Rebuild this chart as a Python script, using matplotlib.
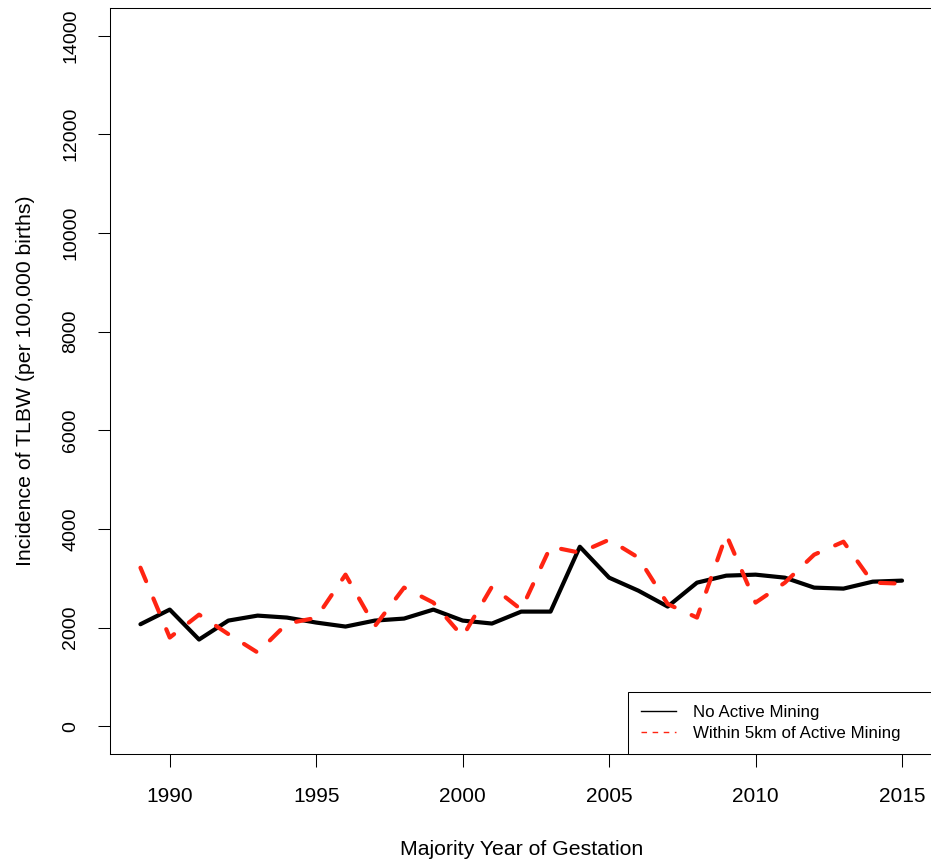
import matplotlib
matplotlib.use("Agg")
import matplotlib.pyplot as plt
from matplotlib.lines import Line2D

plt.rcParams['font.family'] = ['Liberation Sans', 'DejaVu Sans']

years = list(range(1989, 2016))
no_mining = [2070, 2367, 1760, 2144, 2245, 2205, 2104, 2023, 2144, 2185,
             2367, 2144, 2084, 2326, 2326, 3641, 3014, 2750, 2428, 2913,
             3055, 3075, 3014, 2812, 2792, 2933, 2954]
within_5km = [3216, 1800, 2265, 1870, 1497, 2084, 2200, 3075, 2030, 2812,
              2508, 1820, 2832, 2367, 3641, 3520, 3783, 3420, 2480, 2205,
              3884, 2508, 2913, 3480, 3743, 2913, 2893]
xticks = [1990, 1995, 2000, 2005, 2010, 2015]
yticks = [0, 2000, 4000, 6000, 8000, 10000, 12000, 14000]
labels = ["No Active Mining", "Within 5km of Active Mining"]

W, H = 931, 859
fig = plt.figure(figsize=(W / 100, H / 100), dpi=100)
ax_l, ax_r, ax_t, ax_b = 110, 932.5, 8, 754
ax = fig.add_axes([ax_l / W, 1 - ax_b / H, (ax_r - ax_l) / W, (ax_b - ax_t) / H])

ax.plot(years, no_mining, color='black', lw=3, solid_joinstyle='round',
        solid_capstyle='round')
ax.plot(years, within_5km, color='#ff2412', lw=3, dashes=(3.5, 4.5),
        dash_capstyle='round', dash_joinstyle='round')

ax.set_xlim(1989 - 0.04 * 26, 2015 + 0.04 * 26)
ax.set_ylim(-560, 14560)
ax.set_xticks(xticks)
ax.set_yticks(yticks)
ax.tick_params(axis='both', length=9, width=0.75, direction='out')
ax.tick_params(axis='x', pad=15, labelsize=15)
ax.tick_params(axis='y', pad=13, labelsize=14, labelrotation=90)
for lab in ax.get_yticklabels():
    lab.set_va('center')
for s in ax.spines.values():
    s.set_linewidth(0.75)

ax.set_xlabel("Majority Year of Gestation", fontsize=15.3, labelpad=24)
ax.set_ylabel("Incidence of TLBW (per 100,000 births)", fontsize=15.3, labelpad=20)

handles = [Line2D([], [], color='black', lw=1),
           Line2D([], [], color='#ff2412', lw=1, dashes=(4, 4))]
x0 = (628 - ax_l) / (ax_r - ax_l)
leg = ax.legend(handles, labels, loc='lower left', fontsize=12.2,
                bbox_to_anchor=(x0, 0, 1 - x0, 0.05), mode='expand',
                fancybox=False, edgecolor='black', framealpha=1,
                borderaxespad=0, handlelength=2.05, handletextpad=1.0,
                borderpad=0.78, labelspacing=0.34)
leg.get_frame().set_linewidth(0.75)

fig.savefig("out.png", dpi=100)
